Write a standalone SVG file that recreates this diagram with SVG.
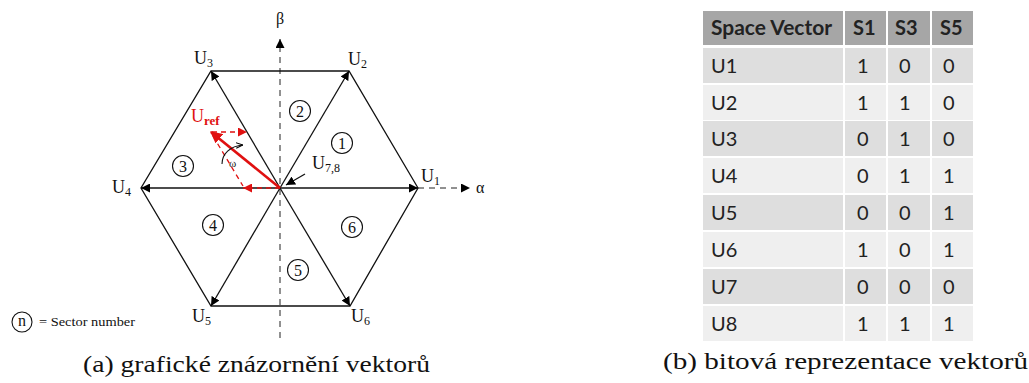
<svg xmlns="http://www.w3.org/2000/svg" width="1029" height="383" viewBox="0 0 1029 383">
<defs>
<marker id="ah" viewBox="0 0 10 10" refX="10" refY="5" markerWidth="9" markerHeight="9" markerUnits="userSpaceOnUse" orient="auto"><path d="M0,0 L10,5 L0,10 z" fill="#000"/></marker>
<marker id="ahr" viewBox="0 0 10 10" refX="10" refY="5" markerWidth="9" markerHeight="9" markerUnits="userSpaceOnUse" orient="auto"><path d="M0,0 L10,5 L0,10 z" fill="#e01010"/></marker>
<marker id="ahR" viewBox="0 0 10 10" refX="9" refY="5" markerWidth="12" markerHeight="12" markerUnits="userSpaceOnUse" orient="auto"><path d="M0,0 L10,5 L0,10 z" fill="#e01010"/></marker>
<marker id="ahs" viewBox="0 0 10 10" refX="10" refY="5" markerWidth="7" markerHeight="7" markerUnits="userSpaceOnUse" orient="auto"><path d="M0,1 L10,5 L0,9" fill="none" stroke="#000" stroke-width="1.5"/></marker>
</defs>
<style>
.ln{stroke:#111;stroke-width:1.3;fill:none}
.dash{stroke:#222;stroke-width:1;stroke-dasharray:6 5;fill:none}
.rd{stroke:#e01010;stroke-width:1.3;stroke-dasharray:5 4;fill:none}
.t{font-family:"Liberation Serif","DejaVu Serif",serif;fill:#111}
.lab{font-size:18px}
.sub{font-size:12px}
.sc{fill:none;stroke:#111;stroke-width:1.1}
.num{font-family:"Liberation Serif",serif;font-size:16px;fill:#111;text-anchor:middle}
.hd{fill:#a6a6a6}
.ra{fill:#dedede}
.rb{fill:#efefef}
.tt{font-family:"Lato","Open Sans","Liberation Sans",sans-serif;font-size:20px;fill:#222}
.th{font-family:"Lato","Open Sans","Liberation Sans",sans-serif;font-size:20px;font-weight:bold;fill:#222}
.cap{font-family:"Liberation Serif","DejaVu Serif",serif;font-size:23px;fill:#111}
</style>
<rect width="1029" height="383" fill="#fff"/>
<g id="connectors">
<line class="dash" x1="280" y1="338" x2="280" y2="39" marker-end="url(#ah)"/>
<line class="dash" x1="418" y1="188" x2="470" y2="188" marker-end="url(#ah)"/>
<polygon class="ln" points="418,188 349,71 211,71 141,188 211,306 350,306"/>
<line class="ln" x1="280" y1="188" x2="418" y2="188" marker-end="url(#ah)"/>
<line class="ln" x1="280" y1="188" x2="349" y2="71" marker-end="url(#ah)"/>
<line class="ln" x1="280" y1="188" x2="211" y2="71" marker-end="url(#ah)"/>
<line class="ln" x1="280" y1="188" x2="141" y2="188" marker-end="url(#ah)"/>
<line class="ln" x1="280" y1="188" x2="211" y2="306" marker-end="url(#ah)"/>
<line class="ln" x1="280" y1="188" x2="350" y2="306" marker-end="url(#ah)"/>
<line class="ln" x1="305" y1="174" x2="286" y2="185" marker-end="url(#ah)"/>
<line class="rd" x1="212" y1="132" x2="247" y2="132" marker-end="url(#ahr)"/>
<line class="rd" x1="280" y1="188" x2="243" y2="188" marker-end="url(#ahr)"/>
<line class="rd" x1="213" y1="136" x2="243" y2="186"/>
<line x1="280" y1="188" x2="211" y2="132" stroke="#e01010" stroke-width="2.6" marker-end="url(#ahR)"/>
<path d="M222,164 C222,154 230,146 243,145" fill="none" stroke="#111" stroke-width="1.1" marker-end="url(#ahs)"/>
</g>
<g id="labels">
<text class="t lab" x="194" y="64">U<tspan class="sub" dy="3">3</tspan></text>
<text class="t lab" x="348" y="65">U<tspan class="sub" dy="3">2</tspan></text>
<text class="t lab" x="421" y="182">U<tspan class="sub" dy="3">1</tspan></text>
<text class="t lab" x="112" y="193">U<tspan class="sub" dy="3">4</tspan></text>
<text class="t lab" x="192" y="322">U<tspan class="sub" dy="3">5</tspan></text>
<text class="t lab" x="351" y="322">U<tspan class="sub" dy="3">6</tspan></text>
<text class="t lab" x="312" y="169">U<tspan class="sub" dy="3">7,8</tspan></text>
<text class="t" x="276" y="24" font-size="16">β</text>
<text class="t" x="476" y="193" font-size="16">α</text>
<text class="t" x="229" y="167" font-size="11">ω</text>
<text x="191" y="122" font-family="Liberation Serif,serif" font-size="18" fill="#e01010">U<tspan font-size="13" font-weight="bold" dy="3">ref</tspan></text>
</g>
<g id="sector1"><circle class="sc" cx="342" cy="143" r="10.5"/><text class="num" x="342" y="148.5">1</text></g>
<g id="sector2"><circle class="sc" cx="300" cy="111" r="10.5"/><text class="num" x="300" y="116.5">2</text></g>
<g id="sector3"><circle class="sc" cx="183" cy="166" r="10.5"/><text class="num" x="183" y="171.5">3</text></g>
<g id="sector4"><circle class="sc" cx="213" cy="225" r="10.5"/><text class="num" x="213" y="230.5">4</text></g>
<g id="sector5"><circle class="sc" cx="298" cy="270" r="10.5"/><text class="num" x="298" y="275.5">5</text></g>
<g id="sector6"><circle class="sc" cx="352" cy="227" r="10.5"/><text class="num" x="352" y="232.5">6</text></g>
<g id="legend"><circle class="sc" cx="22" cy="322" r="10"/><text class="num" x="22" y="326">n</text><text class="t" x="39" y="326" font-size="11.5" textLength="96" lengthAdjust="spacingAndGlyphs">= Sector number</text></g>
<g id="table">
<rect class="hd" x="703" y="11" width="140" height="34"/>
<rect class="hd" x="845" y="11" width="41" height="34"/>
<rect class="hd" x="888" y="11" width="42" height="34"/>
<rect class="hd" x="932" y="11" width="41" height="34"/>
<text class="th" x="711" y="35" textLength="121" lengthAdjust="spacingAndGlyphs">Space Vector</text>
<text class="th" x="853" y="35">S1</text>
<text class="th" x="895" y="35">S3</text>
<text class="th" x="940" y="35">S5</text>
<g id="r1"><rect class="ra" x="703" y="48" width="140" height="35"/><rect class="ra" x="845" y="48" width="41" height="35"/><rect class="ra" x="888" y="48" width="42" height="35"/><rect class="ra" x="932" y="48" width="41" height="35"/>
<text class="tt" x="711" y="73">U1</text><text class="tt" x="857" y="73">1</text><text class="tt" x="899" y="73">0</text><text class="tt" x="943" y="73">0</text></g>
<g id="r2"><rect class="rb" x="703" y="85" width="140" height="35"/><rect class="rb" x="845" y="85" width="41" height="35"/><rect class="rb" x="888" y="85" width="42" height="35"/><rect class="rb" x="932" y="85" width="41" height="35"/>
<text class="tt" x="711" y="110">U2</text><text class="tt" x="857" y="110">1</text><text class="tt" x="899" y="110">1</text><text class="tt" x="943" y="110">0</text></g>
<g id="r3"><rect class="ra" x="703" y="121" width="140" height="35"/><rect class="ra" x="845" y="121" width="41" height="35"/><rect class="ra" x="888" y="121" width="42" height="35"/><rect class="ra" x="932" y="121" width="41" height="35"/>
<text class="tt" x="711" y="146">U3</text><text class="tt" x="857" y="146">0</text><text class="tt" x="899" y="146">1</text><text class="tt" x="943" y="146">0</text></g>
<g id="r4"><rect class="rb" x="703" y="158" width="140" height="35"/><rect class="rb" x="845" y="158" width="41" height="35"/><rect class="rb" x="888" y="158" width="42" height="35"/><rect class="rb" x="932" y="158" width="41" height="35"/>
<text class="tt" x="711" y="183">U4</text><text class="tt" x="857" y="183">0</text><text class="tt" x="899" y="183">1</text><text class="tt" x="943" y="183">1</text></g>
<g id="r5"><rect class="ra" x="703" y="195" width="140" height="35"/><rect class="ra" x="845" y="195" width="41" height="35"/><rect class="ra" x="888" y="195" width="42" height="35"/><rect class="ra" x="932" y="195" width="41" height="35"/>
<text class="tt" x="711" y="220">U5</text><text class="tt" x="857" y="220">0</text><text class="tt" x="899" y="220">0</text><text class="tt" x="943" y="220">1</text></g>
<g id="r6"><rect class="rb" x="703" y="232" width="140" height="35"/><rect class="rb" x="845" y="232" width="41" height="35"/><rect class="rb" x="888" y="232" width="42" height="35"/><rect class="rb" x="932" y="232" width="41" height="35"/>
<text class="tt" x="711" y="257">U6</text><text class="tt" x="857" y="257">1</text><text class="tt" x="899" y="257">0</text><text class="tt" x="943" y="257">1</text></g>
<g id="r7"><rect class="ra" x="703" y="269" width="140" height="35"/><rect class="ra" x="845" y="269" width="41" height="35"/><rect class="ra" x="888" y="269" width="42" height="35"/><rect class="ra" x="932" y="269" width="41" height="35"/>
<text class="tt" x="711" y="294">U7</text><text class="tt" x="857" y="294">0</text><text class="tt" x="899" y="294">0</text><text class="tt" x="943" y="294">0</text></g>
<g id="r8"><rect class="rb" x="703" y="306" width="140" height="35"/><rect class="rb" x="845" y="306" width="41" height="35"/><rect class="rb" x="888" y="306" width="42" height="35"/><rect class="rb" x="932" y="306" width="41" height="35"/>
<text class="tt" x="711" y="331">U8</text><text class="tt" x="857" y="331">1</text><text class="tt" x="899" y="331">1</text><text class="tt" x="943" y="331">1</text></g>
</g>
<g id="captions">
<text class="cap" x="83" y="372" textLength="347" lengthAdjust="spacingAndGlyphs">(a) grafické znázornění vektorů</text>
<text class="cap" x="663" y="369" textLength="365" lengthAdjust="spacingAndGlyphs">(b) bitová reprezentace vektorů</text>
</g>
</svg>
